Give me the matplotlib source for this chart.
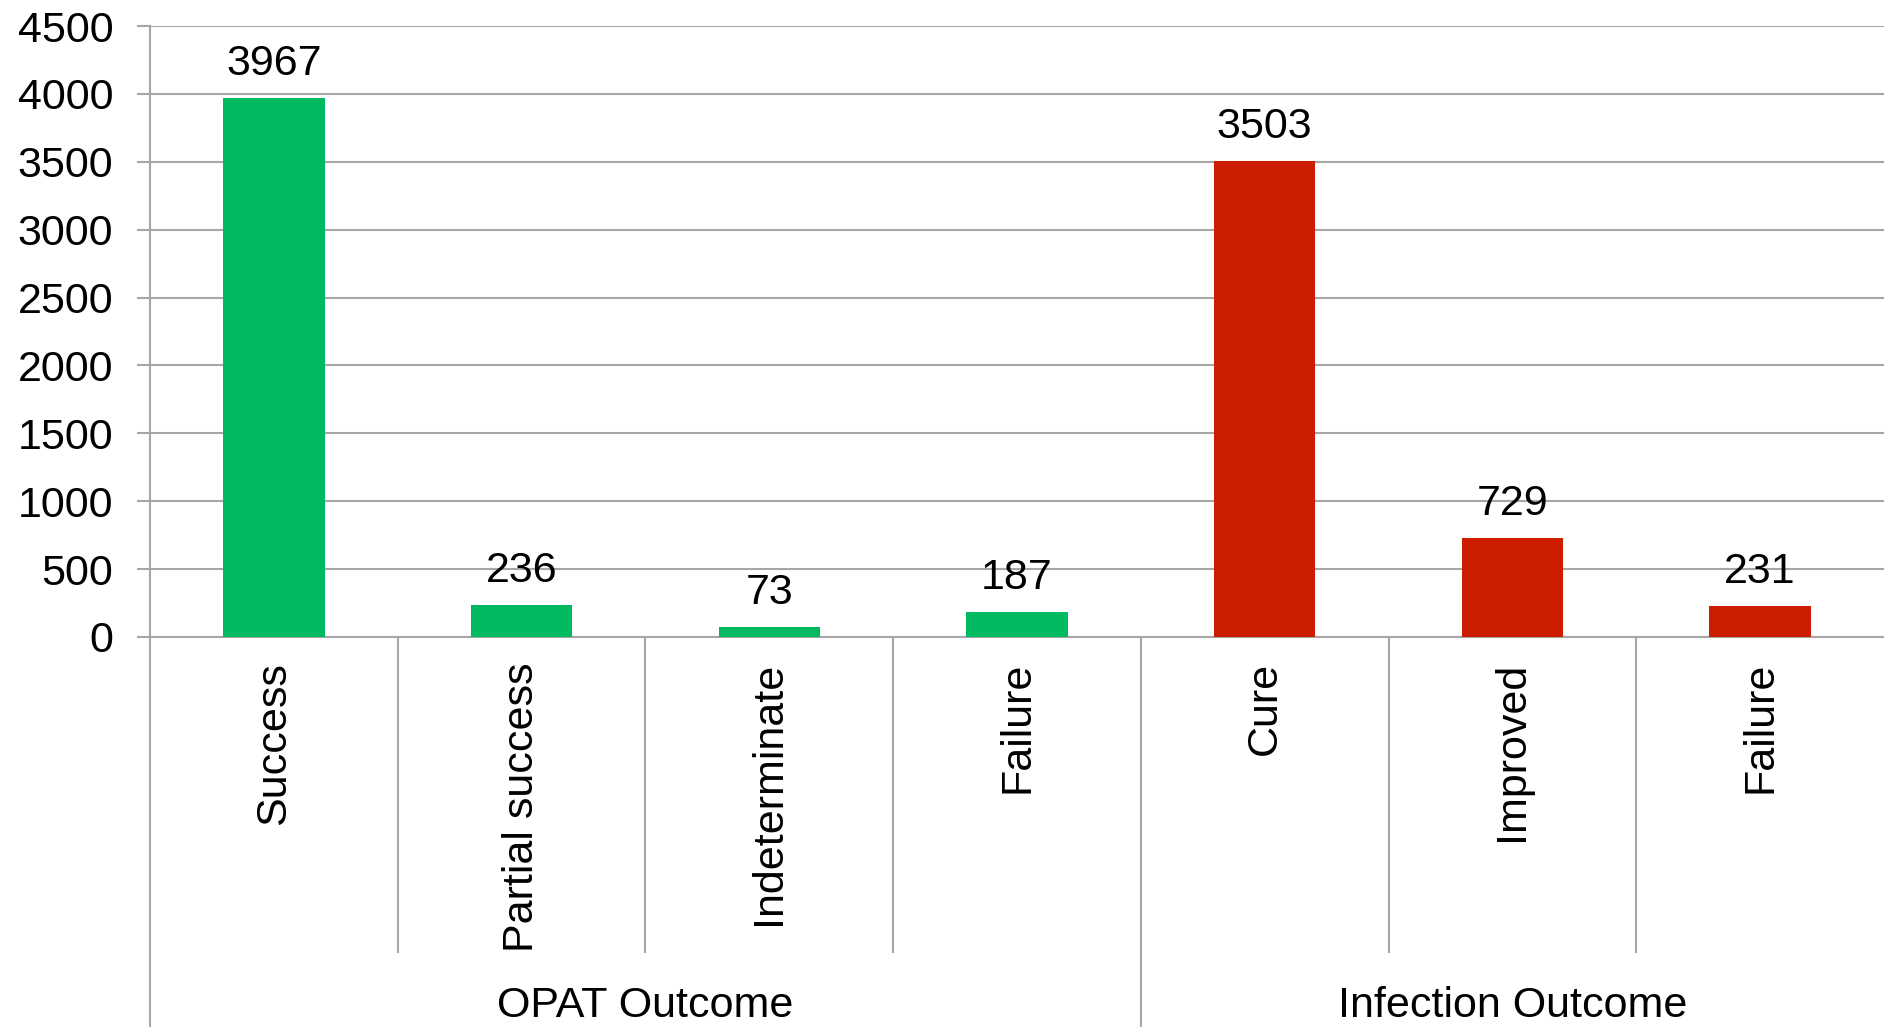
import matplotlib
matplotlib.use("Agg")

import matplotlib.pyplot as plt

# data
categories = ["Success", "Partial success", "Indeterminate", "Failure",
              "Cure", "Improved", "Failure"]
values = [3967, 236, 73, 187, 3503, 729, 231]
groups = ["OPAT Outcome", "Infection Outcome"]
group_sizes = [4, 3]
group_colors = ["#00B960", "#CD1D00"]

plt.rcParams["font.family"] = ["Liberation Sans", "DejaVu Sans"]
GRID = "#A6A6A6"
FS = 31


def main():
    fig = plt.figure(figsize=(18.84, 10.27), dpi=100)
    ax = fig.add_axes([150 / 1884, 1 - 637 / 1027, 1 - 150 / 1884, (637 - 26) / 1027])

    colors = []
    for c, n in zip(group_colors, group_sizes):
        colors += [c] * n

    x = list(range(len(categories)))
    bars = ax.bar(x, values, width=0.41, color=colors, zorder=3)
    for b, v in zip(bars, values):
        ax.annotate(str(v), (b.get_x() + b.get_width() / 2, v),
                    xytext=(0, 10), textcoords="offset points",
                    ha="center", va="bottom", fontsize=FS)

    ax.set_xlim(-0.5, len(categories) - 0.5)
    ax.set_ylim(0, 4500)
    ax.set_yticks(range(0, 4501, 500))
    ax.yaxis.grid(True, color=GRID, linewidth=1.5, zorder=0)
    ax.tick_params(axis="y", length=9.5, width=1.5, color=GRID, pad=17, labelsize=FS)

    ax.set_xticks(x)
    ax.set_xticklabels(categories, rotation=90, va="top", ha="center", fontsize=FS)
    ax.tick_params(axis="x", length=0, pad=18)

    for s in ["top", "right"]:
        ax.spines[s].set_visible(False)
    for s in ["left", "bottom"]:
        ax.spines[s].set_color(GRID)
        ax.spines[s].set_linewidth(1.5)

    # category separators and group labels below the axis
    h = (637 - 26)
    y_inner = -(952 - 637) / h
    y_outer = -(1027 - 637) / h
    tr = ax.get_xaxis_transform()
    ax.plot([-0.5, -0.5], [0, y_outer], transform=tr, color=GRID, lw=1.5, clip_on=False)
    start = 0
    for gi, (g, n) in enumerate(zip(groups, group_sizes)):
        for k in range(1, n):
            xs = start + k - 0.5
            ax.plot([xs, xs], [0, y_inner], transform=tr, color=GRID, lw=1.5, clip_on=False)
        end = start + n
        if gi < len(groups) - 1:
            ax.plot([end - 0.5, end - 0.5], [0, y_outer], transform=tr,
                    color=GRID, lw=1.5, clip_on=False)
        ax.text((start + end - 1) / 2, -(1006 - 637) / h, g, transform=tr,
                ha="center", va="center", fontsize=FS)
        start = end

    fig.savefig("out.png", dpi=100)


if __name__ == "__main__":
    main()
